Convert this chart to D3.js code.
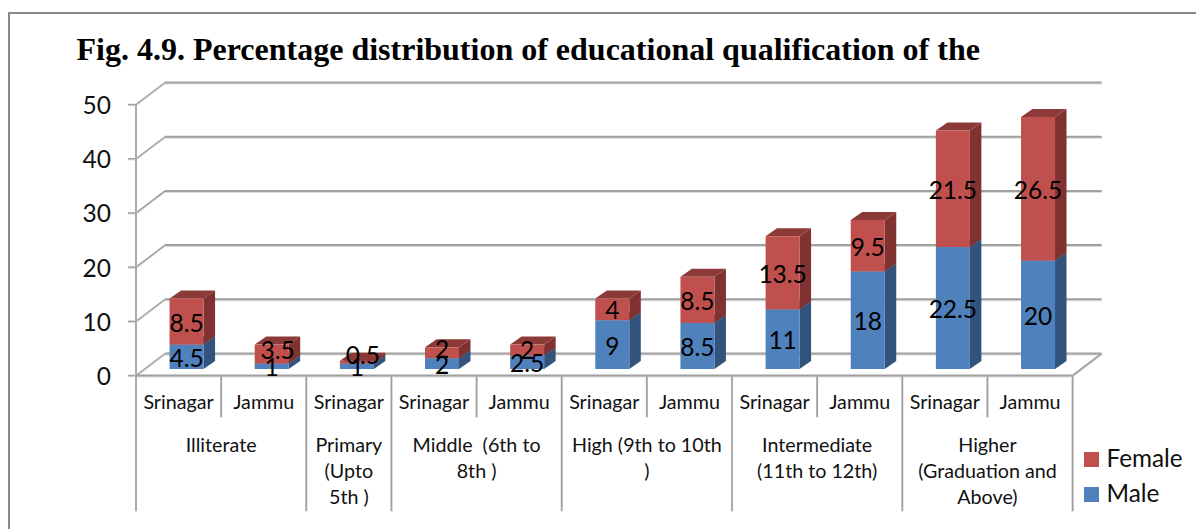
<!DOCTYPE html>
<html><head><meta charset="utf-8"><style>html,body{margin:0;background:#fff}svg{display:block}</style>
<script src="https://cdn.jsdelivr.net/npm/d3@7/dist/d3.min.js"></script></head><body><svg id="c" width="1196" height="529"></svg>
<script>
const titleText="Fig. 4.9. Percentage distribution of educational qualification of the";
const bars=["Srinagar","Jammu","Srinagar","Srinagar","Jammu","Srinagar","Jammu","Srinagar","Jammu","Srinagar","Jammu"];
const male=[4.5,1,1,2,2.5,9,8.5,11,18,22.5,20];
const female=[8.5,3.5,0.5,2,2,4,8.5,13.5,9.5,21.5,26.5];
const groups=[["Illiterate"],["Primary","(Upto","5th )"],["Middle  (6th to","8th )"],["High (9th to 10th",")"],["Intermediate","(11th to 12th)"],["Higher","(Graduation and","Above)"]];
const groupSpans=[2,1,2,2,2,2];
const yTicks=[0,10,20,30,40,50];
const legendNames=["Female","Male"];
const C={f:"#c0504d",fTop:"#8c3a38",fSide:"#7f3230",m:"#4f81bd",mTop:"#3a5f8c",mSide:"#32547c",grid:"#a0a0a0",halo:"#dcdcdc",text:"#111"};
const font="Lato, Carlito, sans-serif";
const svg=d3.select("#c");
svg.append("rect").attr("x",9).attr("y",13).attr("width",1200).attr("height",540).attr("fill","#fff").attr("stroke","#8a8a8a").attr("stroke-width",2);
svg.append("text").attr("x",76.5).attr("y",60).attr("font-family","'Liberation Serif',serif").attr("font-weight",700).attr("font-size",32).attr("fill","#000").text(titleText);

const x=d3.scaleBand().domain(d3.range(bars.length)).range([136,1072.6]);
const y=d3.scaleLinear().domain([0,50]).range([375.5,104.5]);
const dx=29,dy=-22;
const g=svg.append("g");
const ln=(a,b,c,d,w=1.6)=>{
  g.append("line").attr("x1",a).attr("y1",b+.7).attr("x2",c).attr("y2",d+.7).attr("stroke",C.halo).attr("stroke-width",w+.6);
  g.append("line").attr("x1",a).attr("y1",b).attr("x2",c).attr("y2",d).attr("stroke",C.grid).attr("stroke-width",w);
};
yTicks.forEach(t=>{
  const py=y(t);
  ln(136,py,136+dx,py+dy,1.4);
  ln(136+dx,py+dy,1072.6+dx,py+dy,2);
  ln(128,py,136,py,1.4);
  svg.append("text").attr("x",111).attr("y",py+9.5).attr("text-anchor","end").attr("font-family",font).attr("font-size",24.5).attr("fill",C.text).text(t);
});
ln(136,y(50),136,y(0));
ln(136,y(0),1072.6,y(0),2);
ln(1072.6,y(0),1072.6+dx,y(0)+dy,1.6);
// category axis cells
const rowTop=y(0),row1=417,row2=511;
let idx=0;
ln(136,rowTop,136,row2);
groupSpans.forEach((s,i)=>{
  const start=x(idx),end=x(idx)+x.step()*s;
  for(let k=1;k<s;k++) ln(start+x.step()*k,rowTop,start+x.step()*k,row1);
  ln(end,rowTop,end,row2);
  const t=svg.append("text").attr("text-anchor","middle").attr("font-family",font).attr("font-size",19.7).attr("fill",C.text);
  groups[i].forEach((l,j)=>t.append("tspan").attr("x",(start+end)/2).attr("y",452+j*26).attr("xml:space","preserve").style("white-space","pre").text(l));
  idx+=s;
});
bars.forEach((b,i)=>{
  svg.append("text").attr("x",x(i)+x.step()/2).attr("y",409).attr("text-anchor","middle").attr("font-family",font).attr("font-size",19.7).attr("fill",C.text).text(b);
});
// bars
const bw=34,ox=8,oy=-6.5,ddx=11.5,ddy=-8;
const poly=(pts,f)=>svg.append("polygon").attr("points",pts.map(p=>p.join(",")).join(" ")).attr("fill",f);
bars.forEach((b,i)=>{
  const cx=x(i)+x.step()/2+ox, l=cx-bw/2, r=cx+bw/2;
  const Y=v=>y(v)+oy;
  [[0,male[i],C.m,C.mTop,C.mSide],[male[i],male[i]+female[i],C.f,C.fTop,C.fSide]].forEach(([a,e,f,tc,sc])=>{
    poly([[r,Y(a)],[r+ddx,Y(a)+ddy],[r+ddx,Y(e)+ddy],[r,Y(e)]],sc);
    poly([[l,Y(e)],[r,Y(e)],[r+ddx,Y(e)+ddy],[l+ddx,Y(e)+ddy]],tc);
    svg.append("rect").attr("x",l).attr("y",Y(e)).attr("width",bw).attr("height",Y(a)-Y(e)).attr("fill",f);
  });
});
// data labels: small Female labels sit slightly up and right of centre, as in the original
const nudge=(i,isF)=>{
  if(!isF) return [0,0];
  if(i===1) return [6,-5];
  if(i===2) return [6,-8];
  if(i===3) return [0,-5];
  if(i===4) return [0,-1];
  return [0,0];
};
const lab=(i,cx,v,a,isF)=>{
  const [nx,ny]=nudge(i,isF);
  svg.append("text").attr("x",cx+nx).attr("y",y(a+v/2)+oy+10+ny).attr("text-anchor","middle").attr("font-family",font).attr("font-size",24.5).attr("fill","#000").text(v);
};
bars.forEach((b,i)=>{
  const cx=x(i)+x.step()/2+ox;
  lab(i,cx,male[i],0,false);lab(i,cx,female[i],male[i],true);
});
// legend
legendNames.forEach((n,i)=>{
  const c=i?C.m:C.f, ly=452+i*35;
  svg.append("rect").attr("x",1084).attr("y",ly).attr("width",15).attr("height",15).attr("fill",c);
  svg.append("text").attr("x",1106.5).attr("y",ly+15).attr("font-family",font).attr("font-size",24.3).attr("fill",C.text).text(n);
});
</script></body></html>
